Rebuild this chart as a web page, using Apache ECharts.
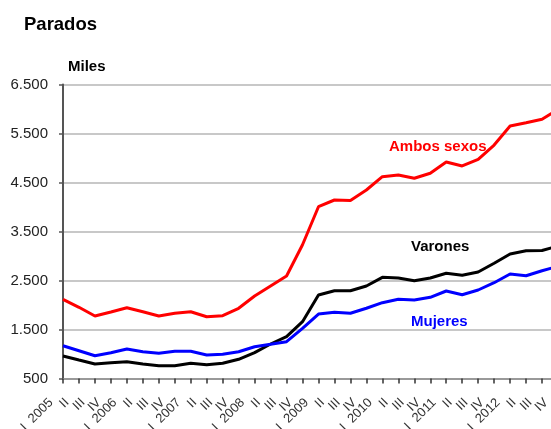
<!DOCTYPE html>
<html>
<head>
<meta charset="utf-8">
<script src="https://cdn.jsdelivr.net/npm/echarts@6.0.0/dist/echarts.min.js"></script>
<style>
  html, body { margin: 0; padding: 0; background: #fff; }
  #chart { width: 551px; height: 429px; }
</style>
</head>
<body>
<div id="chart"></div>
<script>
// trimestres I 2005 .. IV 2012
const quarters = [
  'I  2005', 'II', 'III', 'IV',
  'I  2006', 'II', 'III', 'IV',
  'I  2007', 'II', 'III', 'IV',
  'I  2008', 'II', 'III', 'IV',
  'I  2009', 'II', 'III', 'IV',
  'I  2010', 'II', 'III', 'IV',
  'I  2011', 'II', 'III', 'IV',
  'I  2012', 'II', 'III', 'IV'
]

// miles de parados
const ambosSexos = [2116, 1953, 1775, 1857, 1945, 1863, 1776, 1831, 1863, 1761, 1782, 1933,
  2184, 2388, 2592, 3230, 4006, 4143, 4133, 4347, 4618, 4653, 4586, 4688,
  4918, 4837, 4973, 5265, 5653, 5720, 5790, 5990]
const varones = [959, 877, 796, 822, 843, 796, 761, 761, 810, 782, 810, 892,
  1027, 1204, 1353, 1659, 2204, 2292, 2292, 2388, 2565, 2551, 2496, 2551,
  2647, 2606, 2673, 2851, 3041, 3108, 3112, 3205]
const mujeres = [1169, 1067, 965, 1027, 1102, 1047, 1014, 1055, 1055, 980, 994, 1047,
  1149, 1198, 1251, 1524, 1816, 1851, 1831, 1933, 2047, 2116, 2102, 2157,
  2286, 2210, 2306, 2455, 2633, 2598, 2700, 2790]

const yTicks = { min: 500, max: 6500, step: 1000 }

const font = '"Liberation Sans", Arial, sans-serif'

function miles(v) {
  return String(v).replace(/\B(?=(\d{3})+(?!\d))/g, '.')
}

const chart = echarts.init(document.getElementById('chart'))

chart.setOption({
  animation: false,
  backgroundColor: '#fff',
  textStyle: { fontFamily: font },
  grid: { left: 63, right: -7, top: 84.5, bottom: 50.5, containLabel: false, outerBoundsMode: 'none' },
  xAxis: {
    type: 'category',
    data: quarters,
    boundaryGap: false,
    axisLine: { lineStyle: { color: '#999', width: 2 } },
    axisTick: { show: true, interval: 0, length: 5, lineStyle: { color: '#333', width: 1.5 } },
    axisLabel: {
      interval: 0, rotate: 45, fontSize: 13, color: '#333', margin: 10,
      padding: [0, 17, 0, 0], fontFamily: font
    },
    splitLine: { show: false }
  },
  yAxis: {
    type: 'value',
    min: yTicks.min,
    max: yTicks.max,
    interval: yTicks.step,
    axisLine: { show: true, lineStyle: { color: '#555', width: 2 } },
    axisTick: { show: true, length: 4, lineStyle: { color: '#555', width: 1.5 } },
    axisLabel: { formatter: miles, fontSize: 15, color: '#222', margin: 15, fontFamily: font },
    splitLine: { lineStyle: { color: '#c8c8c8', width: 2 } }
  },
  series: [
    { name: 'Ambos sexos', type: 'line', data: ambosSexos, symbol: 'none', lineStyle: { color: '#ff0000', width: 3 } },
    { name: 'Varones', type: 'line', data: varones, symbol: 'none', lineStyle: { color: '#000', width: 3 } },
    { name: 'Mujeres', type: 'line', data: mujeres, symbol: 'none', lineStyle: { color: '#0000ff', width: 3 } }
  ],
  graphic: [
    { type: 'text', left: 24, top: 15, style: { text: 'Parados', font: 'bold 18.5px ' + font, fill: '#000' } },
    { type: 'text', left: 68, top: 59, style: { text: 'Miles', font: 'bold 15px ' + font, fill: '#000' } },
    { type: 'text', left: 389, top: 139, style: { text: 'Ambos sexos', font: 'bold 15px ' + font, fill: '#ff0000' } },
    { type: 'text', left: 411, top: 239, style: { text: 'Varones', font: 'bold 15px ' + font, fill: '#000' } },
    { type: 'text', left: 411, top: 314, style: { text: 'Mujeres', font: 'bold 15px ' + font, fill: '#0000ff' } }
  ]
})
</script>
</body>
</html>
